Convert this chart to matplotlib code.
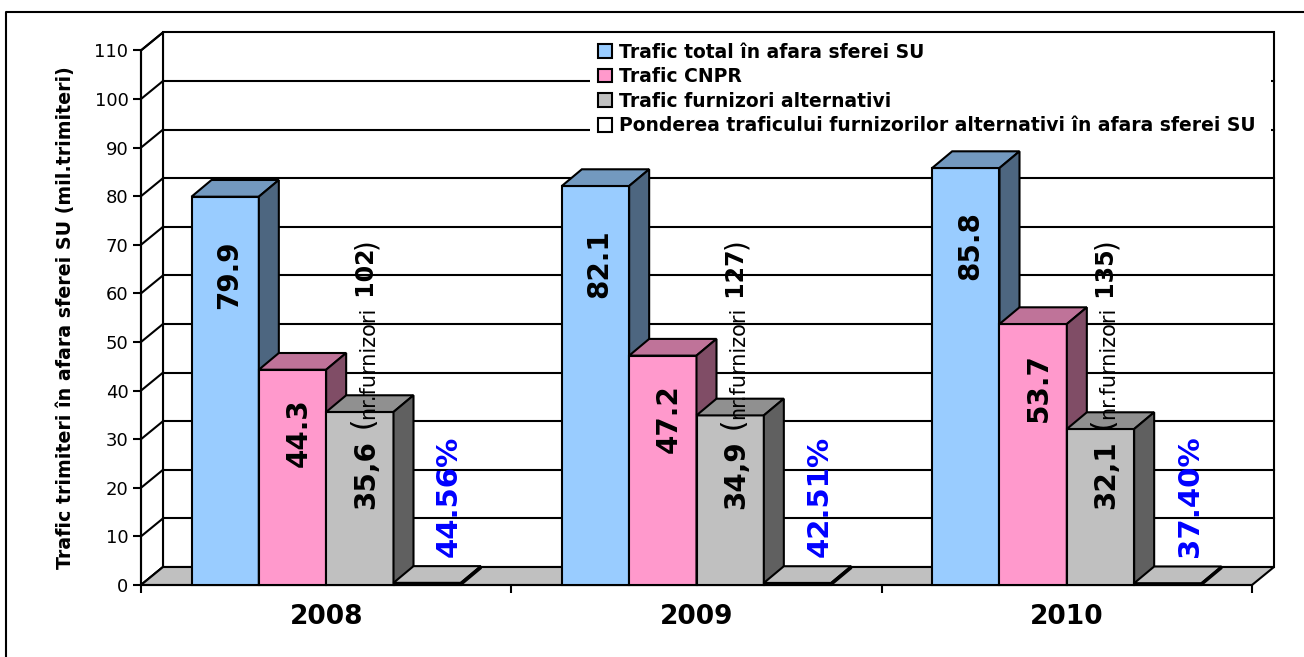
import numpy as np
import matplotlib.pyplot as plt
from matplotlib.patches import Polygon, Patch
from matplotlib.lines import Line2D
from matplotlib.colors import to_rgb

# date
years = ['2008', '2009', '2010']
trafic_total = [79.9, 82.1, 85.8]
trafic_cnpr = [44.3, 47.2, 53.7]
trafic_alt = [35.6, 34.9, 32.1]
pondere = [44.56, 42.51, 37.40]      # %
nr_furnizori = [102, 127, 135]

series_names = ['Trafic total în afara sferei SU',
                'Trafic CNPR',
                'Trafic furnizori alternativi',
                'Ponderea traficului furnizorilor alternativi în afara sferei SU']
colors = ['#99CCFF', '#FF99CC', '#C0C0C0', '#FFFFFF']

W, H = 1304, 657
fig = plt.figure(figsize=(W/100.0, H/100.0), dpi=100)

# front plane of the pseudo-3D chart (pixels)
x0, x1 = 141, 1252
y0, ytop = 585, 50.4
ymax = 110
ax = fig.add_axes([x0/float(W), 1-y0/float(H), (x1-x0)/float(W), (y0-ytop)/float(H)])
ax.set_xlim(0, 3)
ax.set_ylim(0, ymax)

sx = (x1-x0)/3.0          # px per category
sy = (y0-ytop)/float(ymax)  # px per unit
wdx, wdy = 22/sx, 18/sy     # wall depth
bdx, bdy = 20/sx, 16.7/sy   # bar depth
bw = 1/5.5                  # gap width 150%
lw = 1.5

def poly(pts, fc, z):
    p = Polygon(pts, closed=True, fc=fc, ec='black', lw=lw, clip_on=False, zorder=z,
                joinstyle='miter')
    ax.add_patch(p)

# walls and floor
poly([(wdx, wdy), (3+wdx, wdy), (3+wdx, ymax+wdy), (wdx, ymax+wdy)], 'white', 0.1)
poly([(0, 0), (wdx, wdy), (wdx, ymax+wdy), (0, ymax)], 'white', 0.1)
for v in range(10, ymax, 10):
    ax.plot([wdx, 3+wdx], [v+wdy, v+wdy], color='black', lw=lw, clip_on=False, zorder=0.2)
for v in range(0, ymax+1, 10):
    ax.plot([0, wdx], [v, v+wdy], color='black', lw=lw, clip_on=False, zorder=0.2)
poly([(0, 0), (3, 0), (3+wdx, wdy), (wdx, wdy)], '#C0C0C0', 0.3)

def shade(c, f):
    r, g, b = to_rgb(c)
    return (r*f, g*f, b*f)

def bar3d(left, h, color, z):
    right = left + bw
    poly([(left, 0), (right, 0), (right, h), (left, h)], color, z)
    poly([(left, h), (right, h), (right+bdx, h+bdy), (left+bdx, h+bdy)], shade(color, 0.75), z)
    poly([(right, 0), (right+bdx, bdy), (right+bdx, h+bdy), (right, h)], shade(color, 0.5), z)

values = [trafic_total, trafic_cnpr, trafic_alt, [p/100.0 for p in pondere]]
for i in range(3):
    for s in range(4):
        bar3d(i + 0.75*bw + s*bw, values[s][i], colors[s], 1)

# labels
for i in range(3):
    xc = [i + 0.75*bw + (s+0.5)*bw for s in range(4)]
    ax.text(xc[0]+4/sx, trafic_total[i]-16, '%.1f' % trafic_total[i], rotation=90,
            ha='center', va='center', fontsize=20, fontweight='bold', zorder=5)
    ax.text(xc[1]+6/sx, trafic_cnpr[i]-13, '%.1f' % trafic_cnpr[i], rotation=90,
            ha='center', va='center', fontsize=20, fontweight='bold', zorder=5)
    ax.text(xc[3]+22/sx, 18.3, '%.2f%%' % pondere[i], rotation=90, color='#0000FF',
            ha='center', va='center', fontsize=21, fontweight='bold', zorder=5)

renderer = fig.canvas.get_renderer()
inv = ax.transData.inverted()
for i in range(3):
    xc = i + 0.75*bw + 2.5*bw
    bx, by = ax.transData.transform((xc + 14/sx, 15.6))
    pieces = [(('%.1f' % trafic_alt[i]).replace('.', ','), 20, 'bold'),
              (' (', 22, 'normal'),
              ('nr.furnizori', 15, 'normal'),
              (' %d' % nr_furnizori[i], 17, 'bold'),
              (')', 20, 'normal')]
    for s, size, weight in pieces:
        px, py = inv.transform((bx, by))
        t = ax.text(px, py, s, rotation=90, rotation_mode='anchor', ha='left',
                    va='baseline', fontsize=size, fontweight=weight, zorder=5)
        by = t.get_window_extent(renderer).y1

# axes
for k in ['top', 'right']:
    ax.spines[k].set_visible(False)
for k in ['left', 'bottom']:
    ax.spines[k].set_linewidth(lw)
    ax.spines[k].set_zorder(0.4)
ax.set_yticks(range(0, ymax+1, 10))
ax.tick_params(axis='y', direction='out', length=6, width=lw, labelsize=13, pad=3)
ax.set_xticks([0, 1, 2, 3])
ax.set_xticklabels([])
ax.tick_params(axis='x', which='major', direction='out', length=6, width=lw)
ax.set_xticks([0.5, 1.5, 2.5], minor=True)
ax.set_xticklabels(years, minor=True, fontsize=19, fontweight='bold')
ax.tick_params(axis='x', which='minor', length=0, pad=14)

fig.text(66/float(W), 1-318/float(H), 'Trafic trimiteri în afara sferei SU (mil.trimiteri)',
         rotation=90, ha='center', va='center', fontsize=13.7, fontweight='bold')

handles = [Patch(fc=c, ec='black', lw=1.5) for c in colors]
leg = ax.legend(handles, series_names, loc='upper left', mode='expand',
                bbox_to_anchor=(590/float(W), 1-35/float(H), (1271-590)/float(W), 0),
                bbox_transform=fig.transFigure, frameon=True, facecolor='white', edgecolor='none',
                framealpha=1, fancybox=False, prop=dict(weight='bold', size=13.5),
                handlelength=0.75, handleheight=0.75, handletextpad=0.4, labelspacing=0.3,
                borderpad=0.4, borderaxespad=0)
leg.set_zorder(10)

# chart border
fig.add_artist(Line2D([6/float(W), 6/float(W), 1], [0, 1-12/float(H), 1-12/float(H)],
                      transform=fig.transFigure, color='black', lw=1.5))

fig.savefig('out.png', dpi=100)
